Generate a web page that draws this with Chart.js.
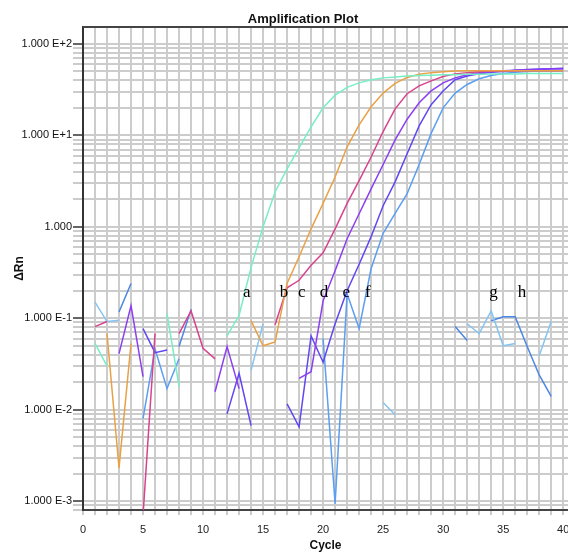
<!DOCTYPE html>
<html>
<head>
<meta charset="utf-8">
<script src="https://cdn.jsdelivr.net/npm/chart.js@4.4.1/dist/chart.umd.min.js"></script>
<style>
  html, body { margin: 0; padding: 0; background: #fff; }
</style>
</head>
<body>
<canvas id="plot" width="568" height="553"></canvas>
<script>
// cycle numbers on the x axis
const cycles = [1, 2, 3, 4, 5, 6, 7, 8, 9, 10, 11, 12, 13, 14, 15, 16, 17, 18, 19, 20,
                21, 22, 23, 24, 25, 26, 27, 28, 29, 30, 31, 32, 33, 34, 35, 36, 37, 38, 39, 40];

// delta Rn per cycle (null = nothing drawn there)
const seriesA = [0.053, 0.030, null, null, null, null, 0.112, 0.018, null, null,
                 null, 0.064, 0.107, 0.36, 1.0, 2.4, 4.3, 7.3, 12.4, 20,
                 27.5, 33.5, 37.5, 40.5, 42.5, 43.5, 44.5, 45, 45.5, 46,
                 46, 46.5, 46.5, 47, 47, 47, 47.5, 47.5, 47.5, 47.5];
const seriesB = [null, 0.068, 0.0023, 0.053, null, null, null, null, null, null,
                 null, null, null, 0.094, 0.050, 0.055, 0.24, 0.47, 0.95, 1.8,
                 3.5, 7.5, 13, 20.5, 29, 37, 43, 46.5, 48.5, 49.5,
                 50.5, 51, 51, 51, 51, 51, 51, 51, 51, 51];
const seriesC = [0.081, 0.092, null, null, 0.0007, 0.068, null, 0.068, 0.12, 0.047,
                 0.036, null, null, null, null, 0.085, 0.215, 0.26, 0.38, 0.52,
                 0.95, 1.8, 3.2, 5.8, 11, 19.5, 28.5, 34.7, 39.4, 44,
                 47, 48.5, 49.5, 50.5, 50.5, 50.5, 51, 51, 51, 51];
const seriesD = [null, null, 0.041, 0.137, 0.023, null, null, null, null, null,
                 0.0157, 0.049, 0.017, null, null, null, null, 0.022, 0.026, 0.155,
                 0.33, 0.74, 1.39, 2.6, 4.8, 8.9, 15, 22.7, 30.6, 37.5,
                 42.5, 46, 48.4, 49.7, 51, 51.5, 52, 52.5, 53, 53];
const seriesE = [null, null, null, null, 0.077, 0.042, 0.045, null, null, null,
                 null, 0.009, 0.025, 0.0067, null, null, 0.0116, 0.0065, 0.064, 0.033,
                 0.087, 0.2, 0.39, 0.78, 1.7, 3.1, 6.3, 12.7, 21.6, 30.6,
                 40.5, 44.6, 47, 49, 50, 51.5, 52.5, 53, 53.5, 54];
const seriesF = [null, null, null, null, 0.008, 0.046, 0.017, 0.036, null, null,
                 null, null, null, null, null, null, null, null, null, 0.06,
                 0.00094, 0.185, 0.077, 0.35, 0.85, 1.4, 2.3, 4.8, 10.5, 20,
                 29, 36, 41.5, 45, 47.5, 49, 50, 50.5, 50.5, 51];
const seriesG = [0.15, 0.092, 0.095, null, null, null, null, null, null, null,
                 null, null, null, 0.027, 0.087, null, null, null, null, null,
                 null, null, null, null, 0.012, 0.0088, null, null, null, null,
                 null, 0.087, 0.068, 0.12, 0.05, 0.053, null, 0.039, 0.092, null];
const seriesH = [null, null, 0.117, 0.24, null, null, null, 0.049, 0.125, null,
                 null, null, null, null, null, null, null, null, null, null,
                 null, null, null, null, null, null, null, null, null, null,
                 0.081, 0.057, null, 0.094, 0.104, 0.104, 0.049, 0.024, 0.014, null];

const seriesValues = [seriesA, seriesB, seriesC, seriesD, seriesE, seriesF, seriesG, seriesH];
const seriesColors = ['#76eec6', '#e9a145', '#d8428f', '#8c3ff0', '#5f47f2', '#5b9ef2', '#86c4f2', '#4b86e6'];

// y axis labels (decades only)
const yTickValues = [0.001, 0.01, 0.1, 1, 10, 100];
const yTickLabels = ['1.000 E-3', '1.000 E-2', '1.000 E-1', '1.000', '1.000 E+1', '1.000 E+2'];

// letters written on the plot, at (cycle, delta Rn)
const noteText = ['a', 'b', 'c', 'd', 'e', 'f', 'g', 'h'];
const noteCycle = [13.64, 16.75, 18.22, 20.08, 21.92, 23.73, 34.19, 36.56];
const noteRn = [0.172, 0.172, 0.172, 0.172, 0.172, 0.172, 0.172, 0.172];

const yMin = 0.0008, yMax = 153;

function isDecade(v) {
    return yTickValues.some(d => Math.abs(v / d - 1) < 1e-6);
}

const extras = {
    id: 'extras',
    afterDraw(chart) {
        const ctx = chart.ctx;
        const area = chart.chartArea;
        ctx.save();
        // top frame line
        ctx.strokeStyle = '#444';
        ctx.lineWidth = 2;
        ctx.beginPath();
        ctx.moveTo(area.left, area.top);
        ctx.lineTo(area.right, area.top);
        ctx.stroke();
        // title
        ctx.fillStyle = '#111';
        ctx.font = 'bold 13px "Liberation Sans", Arial, sans-serif';
        ctx.textAlign = 'center';
        ctx.textBaseline = 'middle';
        ctx.fillText('Amplification Plot', 303, 19);
        // curve letters
        const xs = chart.scales.x, ys = chart.scales.y;
        ctx.font = '17px "Liberation Serif", "Times New Roman", serif';
        ctx.textBaseline = 'alphabetic';
        ctx.fillStyle = '#000';
        noteText.forEach((t, i) => {
            ctx.fillText(t, xs.getPixelForValue(noteCycle[i]), ys.getPixelForValue(noteRn[i]));
        });
        ctx.restore();
    }
};

new Chart(document.getElementById('plot'), {
    type: 'line',
    data: {
        labels: cycles,
        datasets: seriesValues.map((vals, i) => ({
            data: vals,
            borderColor: seriesColors[i],
            backgroundColor: seriesColors[i],
            borderWidth: 1.5,
            pointRadius: 0,
            tension: 0,
            spanGaps: false
        }))
    },
    options: {
        responsive: false,
        animation: false,
        layout: { padding: { top: 27, left: 0, right: 0, bottom: 0 } },
        plugins: {
            legend: { display: false },
            tooltip: { enabled: false },
            title: { display: false }
        },
        scales: {
            x: {
                type: 'linear',
                min: 0,
                max: 40.4,
                afterBuildTicks(scale) {
                    const t = [];
                    for (let v = 0; v <= 40; v++) t.push({ value: v });
                    scale.ticks = t;
                },
                afterFit(scale) {
                    scale.height = 43;
                    scale.paddingLeft = 0;
                    scale.paddingRight = 0;
                },
                ticks: {
                    autoSkip: false,
                    maxRotation: 0,
                    padding: 8,
                    color: '#222',
                    font: { family: '"Liberation Sans", Arial, sans-serif', size: 11 },
                    callback: v => (v % 5 === 0 ? String(v) : '')
                },
                grid: { color: '#cccccc', lineWidth: 2, tickLength: 5, tickColor: '#cccccc' },
                border: { display: true, color: '#444', width: 2 },
                title: {
                    display: true,
                    text: 'Cycle',
                    color: '#111',
                    font: { family: '"Liberation Sans", Arial, sans-serif', size: 12, weight: 'bold' },
                    padding: { top: 0, bottom: 0 }
                }
            },
            y: {
                type: 'logarithmic',
                min: yMin,
                max: yMax,
                afterBuildTicks(scale) {
                    const t = [];
                    for (let d = -4; d <= 2; d++) {
                        for (let j = 1; j <= 9; j++) {
                            const v = j * Math.pow(10, d);
                            if (v >= yMin * 0.999 && v <= yMax) t.push({ value: v });
                        }
                    }
                    scale.ticks = t;
                },
                afterFit(scale) {
                    scale.width = 83;
                    scale.paddingTop = 0;
                    scale.paddingBottom = 0;
                },
                ticks: {
                    autoSkip: false,
                    padding: 1,
                    color: '#111',
                    font: { family: '"Liberation Sans", Arial, sans-serif', size: 11 },
                    callback: v => {
                        const k = yTickValues.findIndex(d => Math.abs(v / d - 1) < 1e-6);
                        return k >= 0 ? yTickLabels[k] : '';
                    }
                },
                grid: {
                    color: '#cccccc',
                    lineWidth: 2,
                    tickLength: 10,
                    tickColor: c => (c.tick && isDecade(c.tick.value) ? '#666' : '#cccccc')
                },
                border: { display: true, color: '#333', width: 2 },
                title: {
                    display: true,
                    text: 'ΔRn',
                    color: '#111',
                    font: { family: '"Liberation Sans", Arial, sans-serif', size: 12, weight: 'bold' },
                    padding: { top: 12, bottom: 0 }
                }
            }
        }
    },
    plugins: [extras]
});
</script>
</body>
</html>
